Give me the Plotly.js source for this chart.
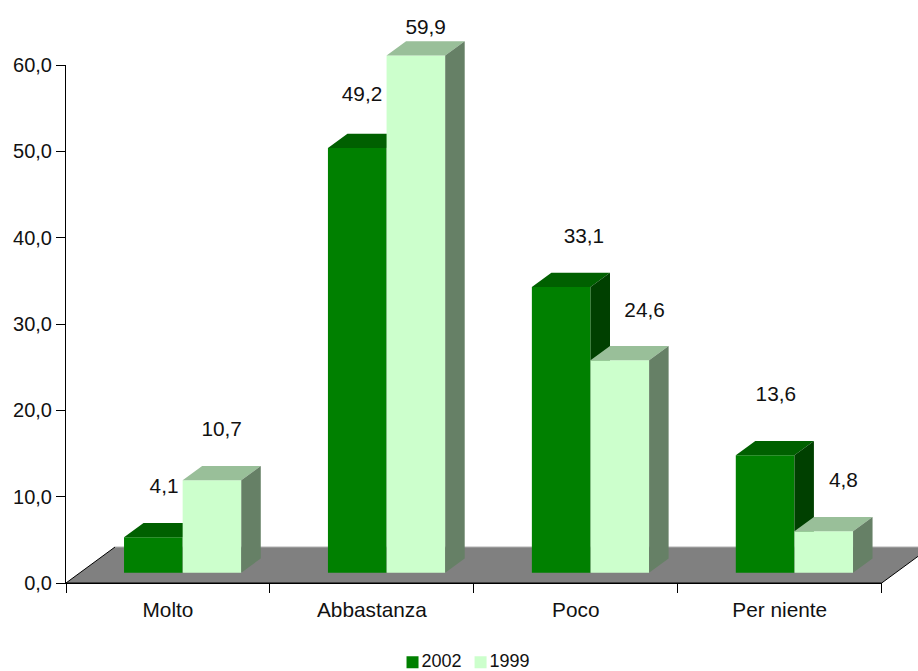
<!DOCTYPE html>
<html>
<head>
<meta charset="utf-8">
<script src="https://cdn.plot.ly/plotly-3.0.1.min.js"></script>
<style>html,body{margin:0;padding:0;background:#fff;overflow:hidden}#chart{width:918px;height:671px}</style>
</head>
<body>
<div id="chart"></div>
<script>
var categories = ["Molto", "Abbastanza", "Poco", "Per niente"];
var series2002 = [4.1, 49.2, 33.1, 13.6];
var series1999 = [10.7, 59.9, 24.6, 4.8];
var labelLift2002 = [49, 52, 49, 59];
var labelLift1999 = [50, 27, 49, 49];
var labelShift2002 = [1, -5, 13, 1];
var labelShift1999 = [0, 0, 15, 10];
var yTicks = [0, 10, 20, 30, 40, 50, 60];

var W = 918, H = 671;
var axisL = 66, axisR = 881.7, axisT = 65, axisB = 583;
var pxX = (axisR - axisL) / 4, pxY = (axisB - axisT) / 60;
var FONT = "Liberation Sans, Arial, sans-serif", FS = 20, FSL = 20.8, TXT = "#111";

var barStart = 0.2845, barW = 0.2875;
var baseY = 10.3 / pxY;
var depthX = 19.5 / pxX, depthY = 14.3 / pxY;
var floorDX = 49 / pxX, floorDY = 36 / pxY;

function faces(values, offset, axX, axY, topColor, sideColor) {
  var tx = [], ty = [], sx = [], sy = [];
  values.forEach(function (v, i) {
    var l = i + barStart + offset * barW, r = l + barW, t = baseY + v, b = baseY;
    tx.push(l, l + depthX, r + depthX, r, l, null);
    ty.push(t, t + depthY, t + depthY, t, t, null);
    sx.push(r, r + depthX, r + depthX, r, r, null);
    sy.push(t, t + depthY, b + depthY, b, t, null);
  });
  function poly(x, y, c) {
    return {x: x, y: y, xaxis: axX, yaxis: axY, type: "scatter", mode: "none", fill: "toself",
            fillcolor: c, showlegend: false, hoverinfo: "skip"};
  }
  return [poly(tx, ty, topColor), poly(sx, sy, sideColor)];
}
function bars(name, values, offset, axX, axY, color) {
  return {type: "bar", name: name, xaxis: axX, yaxis: axY,
    x: values.map(function (v, i) { return i + barStart + (offset + 0.5) * barW; }),
    y: values, base: values.map(function () { return baseY; }), width: barW,
    marker: {color: color, line: {width: 0}}, hoverinfo: "skip"};
}
function labels(values, lifts, shifts, offset) {
  return {type: "scatter", mode: "text", xaxis: "x4", yaxis: "y4", showlegend: false, hoverinfo: "skip",
    x: values.map(function (v, i) { return i + barStart + (offset + 0.5) * barW + depthX / 2 + shifts[i] / pxX; }),
    y: values.map(function (v, i) { return baseY + v + lifts[i] / pxY; }),
    text: values.map(function (v) { return v.toFixed(1).replace(".", ","); }),
    textposition: "middle center", textfont: {family: FONT, size: FSL, color: TXT}};
}

var axisCarrier = {x: [0], y: [0], xaxis: "x", yaxis: "y", type: "scatter", mode: "none", showlegend: false, hoverinfo: "skip"};
var floorFill = {x: [0, floorDX, 4 + floorDX, 4, 0], y: [0, floorDY, floorDY, 0, 0], xaxis: "x2", yaxis: "y2",
  type: "scatter", mode: "none", fill: "toself", fillcolor: "#808080", showlegend: false, hoverinfo: "skip"};
var floorEdge = {x: [floorDX, 0, 4, 4 + floorDX], y: [floorDY, 0, 0, floorDY], xaxis: "x2", yaxis: "y2",
  type: "scatter", mode: "lines", line: {color: "#000", width: 1}, showlegend: false, hoverinfo: "skip"};
var floorBack = {x: [floorDX, 4 + floorDX], y: [floorDY, floorDY], xaxis: "x2", yaxis: "y2",
  type: "scatter", mode: "lines", line: {color: "#b0b0b0", width: 1}, showlegend: false, hoverinfo: "skip"};

var traces = [axisCarrier, floorFill, floorBack, floorEdge,
  bars("2002", series2002, 0, "x3", "y3", "#008000")]
  .concat(faces(series2002, 0, "x3", "y3", "#006000", "#004000"))
  .concat([bars("1999", series1999, 1, "x4", "y4", "#CCFFCC")])
  .concat(faces(series1999, 1, "x4", "y4", "#99BF99", "#668066"))
  .concat([labels(series2002, labelLift2002, labelShift2002, 0), labels(series1999, labelLift1999, labelShift1999, 1)]);

var fullX = [-axisL / pxX, (W - axisL) / pxX];
var fullY = [-(H - axisB) / pxY, axisB / pxY];
function hidden(range, extra) {
  var a = {range: range, visible: false, fixedrange: true, showgrid: false, zeroline: false};
  for (var k in extra) a[k] = extra[k];
  return a;
}

var layout = {
  width: W, height: H, paper_bgcolor: "#fff", plot_bgcolor: "rgba(0,0,0,0)",
  margin: {l: 0, r: 0, t: 0, b: 0, autoexpand: false}, barmode: "overlay", hovermode: false,
  font: {family: FONT, size: FS, color: TXT},
  xaxis: {domain: [axisL / W, axisR / W], range: [0, 4], fixedrange: true, showgrid: false, zeroline: false,
    showline: true, linecolor: "#000", linewidth: 1,
    tickmode: "array", tickvals: categories.map(function (c, i) { return i + 0.5; }), ticktext: categories,
    ticks: "", ticklen: 0, ticklabelstandoff: 8, tickfont: {family: FONT, size: FSL, color: TXT},
    minor: {tickmode: "array", tickvals: [0, 1, 2, 3, 4], ticks: "outside", ticklen: 9, tickcolor: "#000", tickwidth: 1, showgrid: false},
    anchor: "y"},
  yaxis: {domain: [(H - axisB) / H, (H - axisT) / H], range: [0, 60], fixedrange: true, showgrid: false, zeroline: false,
    showline: true, linecolor: "#000", linewidth: 1,
    tickmode: "array", tickvals: yTicks, ticktext: yTicks.map(function (v) { return v.toFixed(1).replace(".", ","); }),
    ticks: "outside", ticklen: 9, tickcolor: "#000", tickwidth: 1, tickfont: {family: FONT, size: FS, color: TXT},
    anchor: "x"},
  xaxis2: hidden(fullX, {domain: [0, 1], anchor: "y2"}),
  yaxis2: hidden(fullY, {domain: [0, 1], anchor: "x2"}),
  xaxis3: hidden(fullX, {overlaying: "x2", anchor: "y3"}),
  yaxis3: hidden(fullY, {overlaying: "y2", anchor: "x3"}),
  xaxis4: hidden(fullX, {overlaying: "x2", anchor: "y4"}),
  yaxis4: hidden(fullY, {overlaying: "y2", anchor: "x4"}),
  showlegend: true,
  legend: {orientation: "h", x: 0.4156, xanchor: "left", y: 0, yanchor: "bottom", traceorder: "normal",
    font: {family: FONT, size: 18, color: TXT}, bgcolor: "rgba(0,0,0,0)", itemclick: false, itemdoubleclick: false}
};
function shift(el, dx, dy) {
  var m = /translate\(([-\d.]+)[ ,]*([-\d.]*)/.exec(el.getAttribute("transform") || "");
  var x = m ? parseFloat(m[1]) : 0, y = m && m[2] ? parseFloat(m[2]) : 0;
  el.setAttribute("transform", "translate(" + (x + dx) + "," + (y + dy) + ")");
}
Plotly.newPlot("chart", traces, layout, {displayModeBar: false, staticPlot: true}).then(function () {
  document.querySelectorAll(".legend .legendpoints").forEach(function (p) { shift(p, 11, 2); });
  var entries = document.querySelectorAll(".legend g.traces");
  if (entries.length > 1) shift(entries[1], -17, 0);
  var box = document.querySelector("g.legend");
  if (box) shift(box, 0, 8);
});
</script>
</body>
</html>
